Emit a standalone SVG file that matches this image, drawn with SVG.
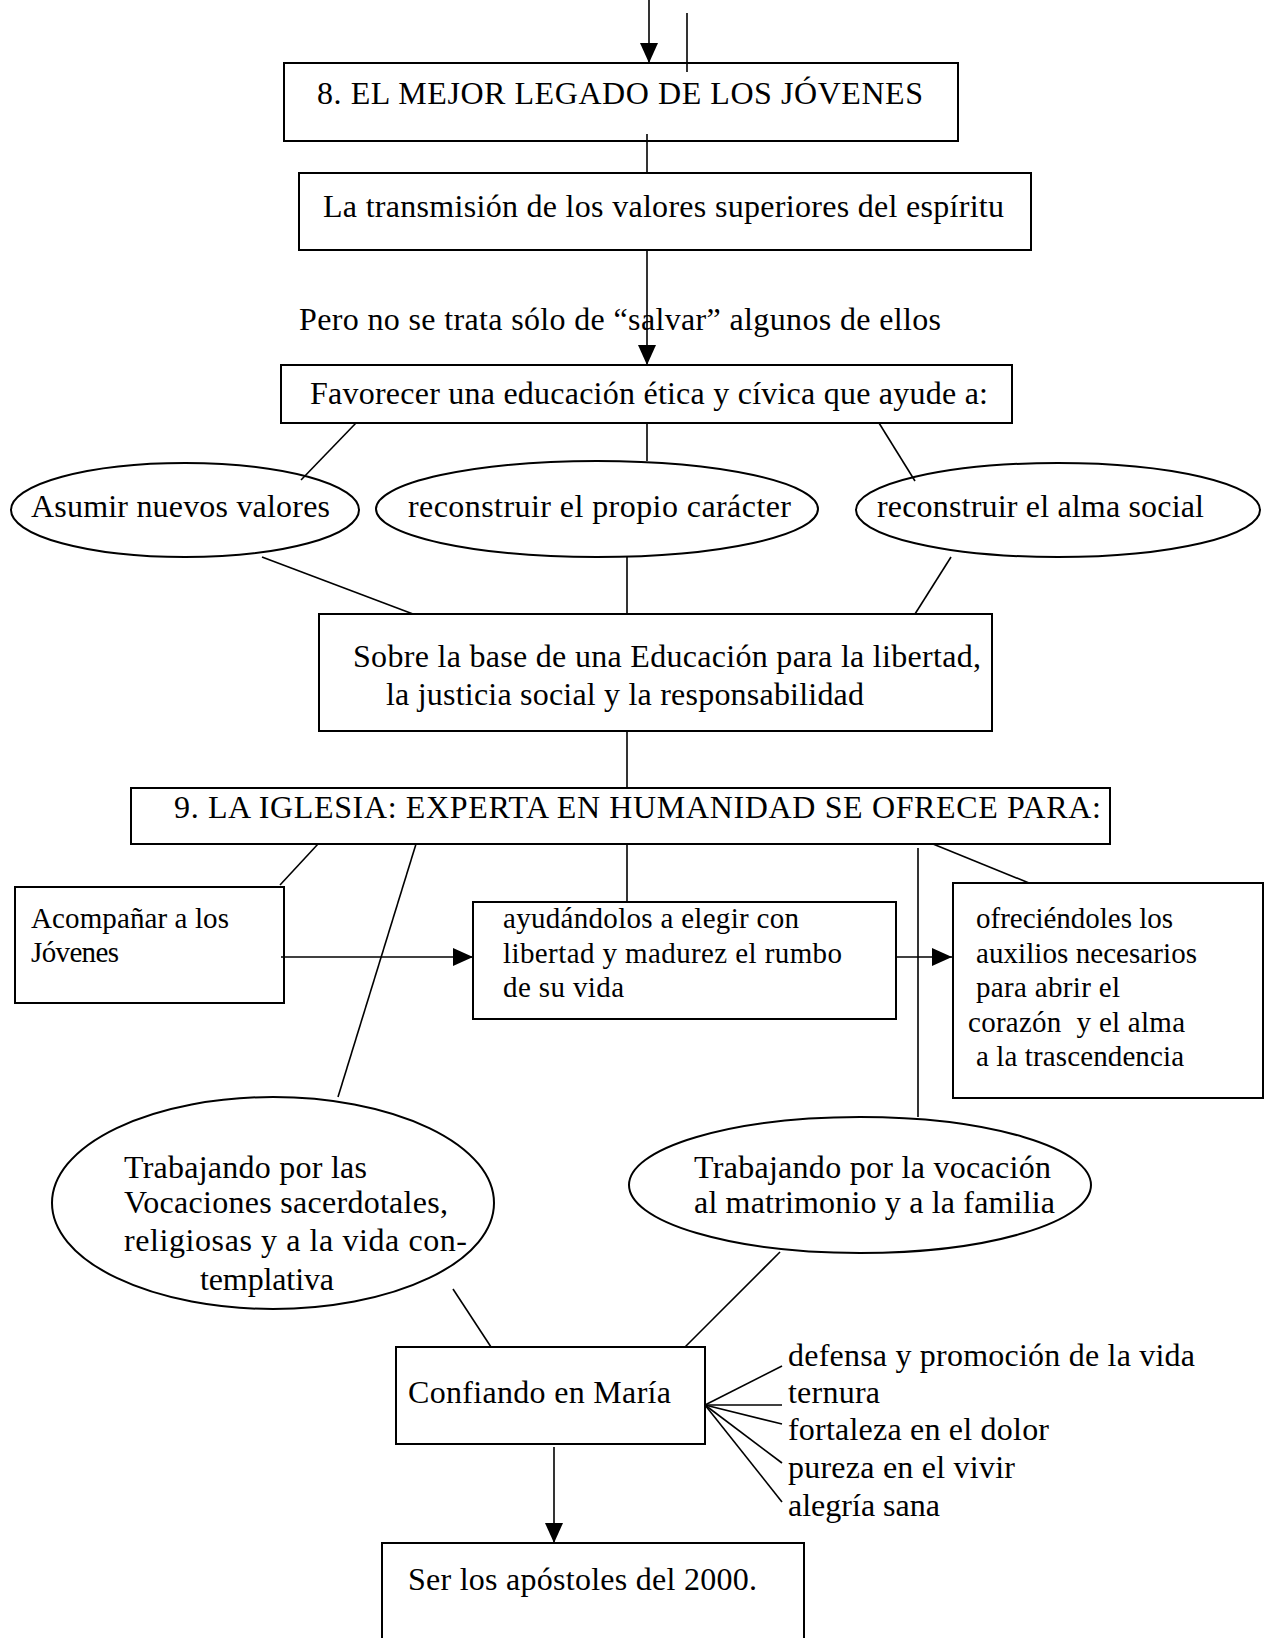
<svg xmlns="http://www.w3.org/2000/svg" width="1265" height="1638" viewBox="0 0 1265 1638">
<style>
.box{fill:#fff;stroke:#000;stroke-width:2}
.ell{fill:#fff;stroke:#000;stroke-width:2}
.ln{stroke:#000;stroke-width:1.6;fill:none}
text{font-family:"Liberation Serif","Times New Roman",serif;fill:#000}
.t{font-size:32px}
.s{font-size:29px}
</style>
<defs>
<marker id="ah" viewBox="0 0 20 18" refX="20" refY="9" markerWidth="20" markerHeight="18" markerUnits="userSpaceOnUse" orient="auto">
<path d="M0,0 L20,9 L0,18 z" fill="#000"/>
</marker>
</defs>
<rect width="1265" height="1638" fill="#fff"/>

<g id="n1"><rect class="box" x="284" y="63" width="674" height="78"/>
<text class="t" x="317" y="104" textLength="606" lengthAdjust="spacing">8. EL MEJOR LEGADO DE LOS JÓVENES</text></g>
<g id="n2"><rect class="box" x="299" y="173" width="732" height="77"/>
<text class="t" x="323" y="217" textLength="681" lengthAdjust="spacing">La transmisión de los valores superiores del espíritu</text></g>
<g id="lbl"><text class="t" x="299" y="330" textLength="642" lengthAdjust="spacing">Pero no se trata sólo de “salvar” algunos de ellos</text></g>
<g id="n3"><rect class="box" x="281" y="365" width="731" height="58"/>
<text class="t" x="310" y="404" textLength="678" lengthAdjust="spacing">Favorecer una educación ética y cívica que ayude a:</text></g>
<g id="e1"><ellipse class="ell" cx="185" cy="510" rx="174" ry="47"/>
<text class="t" x="31" y="517" textLength="299" lengthAdjust="spacing">Asumir nuevos valores</text></g>
<g id="e2"><ellipse class="ell" cx="597" cy="509" rx="221" ry="48"/>
<text class="t" x="408" y="517" textLength="383" lengthAdjust="spacing">reconstruir el propio carácter</text></g>
<g id="e3"><ellipse class="ell" cx="1058" cy="510" rx="202" ry="47"/>
<text class="t" x="877" y="517" textLength="327" lengthAdjust="spacing">reconstruir el alma social</text></g>
<g id="n4"><rect class="box" x="319" y="614" width="673" height="117"/>
<text class="t" x="353" y="667" textLength="628" lengthAdjust="spacing">Sobre la base de una Educación para la libertad,</text>
<text class="t" x="386" y="705" textLength="478" lengthAdjust="spacing">la justicia social y la responsabilidad</text></g>
<g id="n5"><rect class="box" x="131" y="788" width="979" height="56"/>
<text class="t" x="174" y="818" textLength="927" lengthAdjust="spacing">9. LA IGLESIA: EXPERTA EN HUMANIDAD SE OFRECE PARA:</text></g>
<g id="n6"><rect class="box" x="15" y="887" width="269" height="116"/>
<text class="s" x="31" y="928" textLength="198" lengthAdjust="spacing">Acompañar a los</text>
<text class="s" x="31" y="962" textLength="88" lengthAdjust="spacing">Jóvenes</text></g>
<g id="n7"><rect class="box" x="473" y="902" width="423" height="117"/>
<text class="s" x="503" y="928" textLength="296" lengthAdjust="spacing">ayudándolos a elegir con</text>
<text class="s" x="503" y="963" textLength="339" lengthAdjust="spacing">libertad y madurez el rumbo</text>
<text class="s" x="503" y="997" textLength="121" lengthAdjust="spacing">de su vida</text></g>
<g id="n8"><rect class="box" x="953" y="883" width="310" height="215"/>
<text class="s" x="976" y="928" textLength="197" lengthAdjust="spacing">ofreciéndoles los</text>
<text class="s" x="976" y="963" textLength="221" lengthAdjust="spacing">auxilios necesarios</text>
<text class="s" x="976" y="997" textLength="144" lengthAdjust="spacing">para abrir el</text>
<text class="s" x="968" y="1032" xml:space="preserve" textLength="217" lengthAdjust="spacing">corazón  y el alma</text>
<text class="s" x="976" y="1066" textLength="208" lengthAdjust="spacing">a la trascendencia</text></g>
<g id="e4"><ellipse class="ell" cx="273" cy="1203" rx="221" ry="106"/>
<text class="t" x="124" y="1178" textLength="243" lengthAdjust="spacing">Trabajando por las</text>
<text class="t" x="124" y="1213" textLength="324" lengthAdjust="spacing">Vocaciones sacerdotales,</text>
<text class="t" x="124" y="1251" textLength="343" lengthAdjust="spacing">religiosas y a la vida con-</text>
<text class="t" x="200" y="1290" textLength="134" lengthAdjust="spacing">templativa</text></g>
<g id="e5"><ellipse class="ell" cx="860" cy="1185" rx="231" ry="68"/>
<text class="t" x="694" y="1178" textLength="357" lengthAdjust="spacing">Trabajando por la vocación</text>
<text class="t" x="694" y="1213" textLength="361" lengthAdjust="spacing">al matrimonio y a la familia</text></g>
<g id="n9"><rect class="box" x="396" y="1347" width="309" height="97"/>
<text class="t" x="408" y="1403" textLength="263" lengthAdjust="spacing">Confiando en María</text></g>
<g id="fan">
<text class="t" x="788" y="1366" textLength="407" lengthAdjust="spacing">defensa y promoción de la vida</text>
<text class="t" x="788" y="1403" textLength="92" lengthAdjust="spacing">ternura</text>
<text class="t" x="788" y="1440" textLength="261" lengthAdjust="spacing">fortaleza en el dolor</text>
<text class="t" x="788" y="1478" textLength="227" lengthAdjust="spacing">pureza en el vivir</text>
<text class="t" x="788" y="1516" textLength="152" lengthAdjust="spacing">alegría sana</text></g>
<g id="n10"><rect class="box" x="382" y="1543" width="422" height="110"/>
<text class="t" x="408" y="1590" textLength="349" lengthAdjust="spacing">Ser los apóstoles del 2000.</text></g>

<g id="connectors">
<line class="ln" x1="649" y1="0" x2="649" y2="63" marker-end="url(#ah)"/>
<line class="ln" x1="687" y1="13" x2="687" y2="72"/>
<line class="ln" x1="647" y1="134" x2="647" y2="173"/>
<line class="ln" x1="647" y1="250" x2="647" y2="365" marker-end="url(#ah)"/>
<line class="ln" x1="356" y1="423" x2="301" y2="480"/>
<line class="ln" x1="647" y1="423" x2="647" y2="461"/>
<line class="ln" x1="879" y1="423" x2="915" y2="481"/>
<line class="ln" x1="262" y1="557" x2="413" y2="614"/>
<line class="ln" x1="627" y1="557" x2="627" y2="614"/>
<line class="ln" x1="951" y1="557" x2="915" y2="614"/>
<line class="ln" x1="627" y1="731" x2="627" y2="788"/>
<line class="ln" x1="318" y1="844" x2="280" y2="885"/>
<line class="ln" x1="416" y1="844" x2="338" y2="1097"/>
<line class="ln" x1="627" y1="844" x2="627" y2="902"/>
<line class="ln" x1="918" y1="848" x2="918" y2="1117"/>
<line class="ln" x1="933" y1="844" x2="1029" y2="883"/>
<line class="ln" x1="281" y1="957" x2="473" y2="957" marker-end="url(#ah)"/>
<line class="ln" x1="896" y1="957" x2="952" y2="957" marker-end="url(#ah)"/>
<line class="ln" x1="453" y1="1289" x2="491" y2="1347"/>
<line class="ln" x1="780" y1="1252" x2="685" y2="1347"/>
<line class="ln" x1="705" y1="1405" x2="782" y2="1366"/>
<line class="ln" x1="705" y1="1405" x2="782" y2="1405"/>
<line class="ln" x1="705" y1="1405" x2="782" y2="1424"/>
<line class="ln" x1="705" y1="1405" x2="782" y2="1463"/>
<line class="ln" x1="705" y1="1405" x2="782" y2="1502"/>
<line class="ln" x1="554" y1="1447" x2="554" y2="1543" marker-end="url(#ah)"/>
</g>
</svg>
